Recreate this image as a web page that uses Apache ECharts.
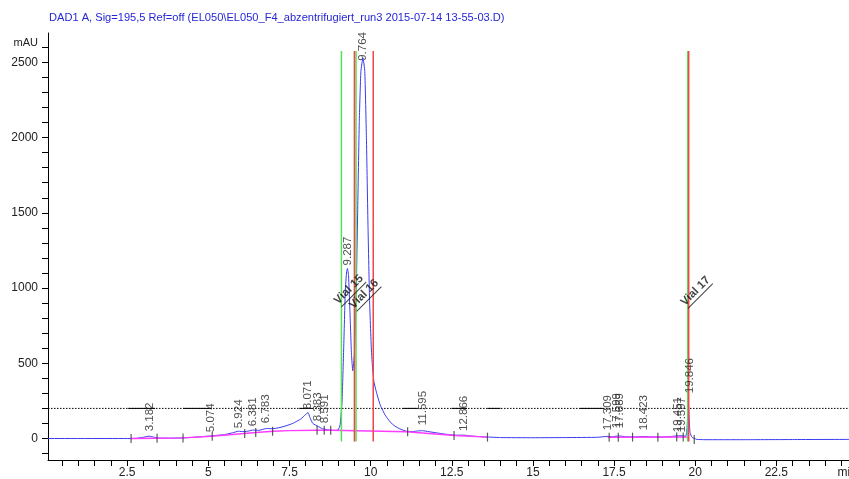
<!DOCTYPE html>
<html><head><meta charset="utf-8">
<script src="https://cdn.jsdelivr.net/npm/echarts@6/dist/echarts.min.js"></script>
<style>html,body{margin:0;padding:0;background:#fff}#c{width:849px;height:479px}</style>
</head><body><div id="c"></div>
<script>
// ---- data ----
const traceTime = [0.06,2.6,2.8,3.0,3.1,3.182,3.3,3.45,3.8,4.2,4.6,5.074,5.5,5.75,5.924,6.1,6.25,6.381,6.55,6.783,7.0,7.3,7.6,7.85,8.0,8.071,8.13,8.22,8.383,8.5,8.591,8.75,8.9,9.0,9.06,9.12,9.17,9.22,9.26,9.287,9.32,9.36,9.41,9.45,9.5,9.55,9.6,9.65,9.7,9.764,9.82,9.87,9.92,9.97,10.03,10.1,10.2,10.3,10.45,10.6,10.75,10.9,11.1,11.3,11.45,11.595,11.8,12.1,12.4,12.6,12.866,13.1,13.4,13.6,14.0,15.0,16.0,17.0,17.309,17.45,17.599,17.689,17.85,18.1,18.423,18.7,19.0,19.3,19.451,19.597,19.7,19.74,19.77,19.79,19.81,19.84,19.9,19.98,20.05,20.3,21.5,23.0,24.8];
const traceMAU  = [0,0,1,8,13,15,10,3,2,4,8,17,26,38,48,45,50,56,54,66,65,78,100,130,160,172,140,100,80,66,62,55,53,58,90,250,600,980,1110,1130,1080,860,560,450,560,900,1500,2100,2440,2530,2440,2000,1400,900,560,380,290,220,155,110,82,64,48,46,50,52,45,35,26,22,22,16,12,10,6,5,6,8,14,12,16,16,12,10,13,10,10,14,18,18,15,40,160,240,150,40,8,0,-6,-8,-8,-7,-6];

const baseline1Time = [2.6,3.4,4.2,5.1,6.1,6.47,7.0,7.5,8.35,8.77,11.1,12.6,13.6];
const baseline1MAU  = [0,2,4,15,33,40,48,52,55,55,45,20,9];
const baseline2Time = [17.3,19.75];
const baseline2MAU  = [8,10];

const markTime = [2.62,3.42,4.22,5.12,6.12,6.46,6.98,8.35,8.57,8.77,11.14,12.57,13.6,17.35,17.63,18.07,18.85,19.43,19.63,19.97];
const markMAU  = [0,1,4,15,33,40,48,55,55,55,45,20,9,8,8,9,9,10,10,-6];

const peakRT    = [3.182,5.074,5.924,6.381,6.783,8.071,8.383,8.591,9.287,9.764,11.595,12.866,17.309,17.599,17.689,18.423,19.451,19.597,19.846];
const peakLabelMAU = [48,42,68,82,102,195,115,102,1150,2510,88,50,55,68,68,55,42,42,301];

const thresholdMAU = 200;
const thresholdSolidFrom = [2.53,4.22,7.8,11.0,12.5,13.6,16.45];
const thresholdSolidTo   = [3.36,5.1,8.2,11.43,12.97,14.0,17.17];

const greenLineTime = [9.1,9.55,19.77];
const redLineTime   = [9.5,10.08,19.8];
const markerLineFrom = -20, markerLineTo = 2575;

const vialNames = ['Vial 15','Vial 16','Vial 17'];
const vialTime  = [9.35,9.82,20.03];
const vialMAU   = [985,955,975];

const xLabelValues = [2.5,5,7.5,10,12.5,15,17.5,20,22.5];
const yLabelValues = [0,500,1000,1500,2000,2500];

// ---- build ----
const FONT = 'Liberation Sans, Arial, sans-serif';
const zip = (a,b) => a.map((v,i)=>[v,b[i]]);
function vLines(times){ const d=[]; times.forEach(t=>{d.push([t,markerLineFrom],[t,markerLineTo],[t,'-']);}); return d; }
const solidSegs = []; thresholdSolidFrom.forEach((f,i)=>{solidSegs.push([f,thresholdMAU],[thresholdSolidTo[i],thresholdMAU],[thresholdSolidTo[i],'-']);});
const xTicks=[]; for(let i=1;i<=49;i++) xTicks.push(i*0.5);
const yTicks=[]; for(let v=-100;v<=2600;v+=100) yTicks.push(v);

const chart = echarts.init(document.getElementById('c'), null, {renderer:'canvas'});
chart.setOption({
  animation:false,
  backgroundColor:'#fff',
  title:{text:'DAD1 A, Sig=195,5 Ref=off (EL050\\EL050_F4_abzentrifugiert_run3 2015-07-14 13-55-03.D)',
    left:49, top:12, padding:0,
    textStyle:{fontFamily:FONT,fontSize:11.1,fontWeight:'normal',color:'#2626d6'}},
  grid:{left:48,right:-2,top:33,bottom:19,containLabel:false,outerBoundsMode:'none'},
  xAxis:{type:'value',min:0.06,max:24.8,
    axisLine:{show:true,onZero:false,lineStyle:{color:'#000',width:1}},
    axisTick:{show:true,customValues:xTicks,length:6,lineStyle:{color:'#000'}},
    axisLabel:{customValues:xLabelValues.concat([24.68]),margin:7,fontFamily:FONT,fontSize:12,color:'#222',
      formatter:v=> v>24 ? 'min' : String(v)},
    splitLine:{show:false}},
  yAxis:{type:'value',min:-143,max:2695,
    axisLine:{show:true,onZero:false,lineStyle:{color:'#000',width:1}},
    axisTick:{show:true,customValues:yTicks,length:6,lineStyle:{color:'#000'}},
    axisLabel:{customValues:yLabelValues.concat([2630]),margin:10,fontFamily:FONT,fontSize:12,color:'#222',
      formatter:v=> v>2600 ? '{u|mAU}' : String(v), rich:{u:{fontFamily:FONT,fontSize:11,color:'#222'}}},
    splitLine:{show:false}},
  series:[
    {type:'line',data:[[0.06,thresholdMAU],[24.8,thresholdMAU]],symbol:'none',silent:true,z:1,
      lineStyle:{color:'#000',width:1,type:[1.5,1.5]}},
    {type:'line',data:solidSegs,symbol:'none',silent:true,z:1,connectNulls:false,
      lineStyle:{color:'#000',width:1}},
    {type:'line',data:zip(traceTime,traceMAU),symbol:'none',z:3,smooth:0.15,
      lineStyle:{color:'#3a3af2',width:1}},
    {type:'line',data:zip(baseline1Time,baseline1MAU),symbol:'none',z:4,
      lineStyle:{color:'#ff3cff',width:1.4}},
    {type:'line',data:zip(baseline2Time,baseline2MAU),symbol:'none',z:4,
      lineStyle:{color:'#ff3cff',width:1.4}},
    {type:'scatter',data:zip(markTime,markMAU),symbol:'rect',symbolSize:[1.2,9],z:5,
      itemStyle:{color:'#333'}},
    {type:'line',data:vLines(greenLineTime),symbol:'none',z:6,connectNulls:false,
      lineStyle:{color:'#55e055',width:1.5}},
    {type:'line',data:vLines(redLineTime),symbol:'none',z:7,connectNulls:false,
      lineStyle:{color:'#f04848',width:1.5}},
    {type:'scatter',data:peakRT.map((t,i)=>({value:[t,peakLabelMAU[i]],name:t.toFixed(3)})),
      symbolSize:0,z:8,
      label:{show:true,position:[0,0],align:'left',verticalAlign:'middle',rotate:90,
        formatter:p=>p.name,fontFamily:FONT,fontSize:11.5,color:'#222'}},
    {type:'scatter',data:vialNames.map((n,i)=>({value:[vialTime[i],vialMAU[i]],name:n})),
      symbolSize:0,z:9,
      label:{show:true,position:[0,0],align:'center',verticalAlign:'middle',rotate:45,
        formatter:p=>'{a|'+p.name+'}\n{u|\u00a0}',
        rich:{a:{fontFamily:FONT,fontSize:11.5,fontWeight:'bold',color:'#111',lineHeight:12},
              u:{width:35,height:1,lineHeight:2,fontSize:1,backgroundColor:'#111'}}}}
  ]
});
</script></body></html>
